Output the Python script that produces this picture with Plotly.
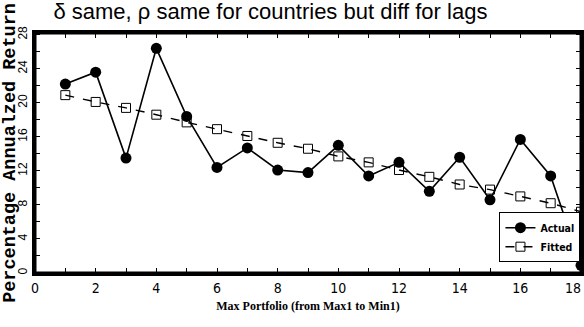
import plotly.graph_objects as go

portfolios = list(range(1, 19))
actual = [22.2, 23.6, 13.5, 26.4, 18.4, 12.4, 14.7, 12.1, 11.8, 15.0, 11.4, 13.0, 9.6, 13.6, 8.6, 15.7, 11.4, 0.9]
fitted = [20.9, 20.1, 19.4, 18.6, 17.7, 16.9, 16.1, 15.3, 14.6, 13.7, 13.0, 12.1, 11.3, 10.4, 9.8, 9.0, 8.2, 7.2]

title_text = "δ same, ρ same for countries but diff for lags"
x_title = "Max Portfolio (from Max1 to Min1)"
y_title = "Percentage Annualzed Return"
x_last_label = "18"

fig = go.Figure()
fig.add_trace(go.Scatter(
    x=portfolios, y=actual, name="Actual", mode="lines+markers",
    line=dict(color="black", width=1.6),
    marker=dict(symbol="circle", size=11, color="black"),
))
fig.add_trace(go.Scatter(
    x=portfolios, y=fitted, name="Fitted", mode="lines+markers",
    line=dict(color="black", width=1.4, dash="dash"),
    marker=dict(symbol="square-open", size=9, color="black", line=dict(width=1)),
))

narrow = "Liberation Sans Narrow, DejaVu Sans Condensed, Arial Narrow, sans-serif"

fig.update_layout(
    width=584, height=327,
    margin=dict(l=35, r=2.5, t=33, b=54, autoexpand=False),
    paper_bgcolor="white", plot_bgcolor="white",
    title=dict(text=title_text, x=0.463, xanchor="center", y=0.966, yanchor="middle",
               font=dict(family="Liberation Sans, Arial, sans-serif", size=22, color="black")),
    showlegend=True,
    legend=dict(x=0.999, xanchor="right", y=0.045, yanchor="bottom",
                bgcolor="white", bordercolor="black", borderwidth=1,
                font=dict(family=narrow, size=10.5, color="black", weight="bold"),
                itemwidth=30, tracegroupgap=0),
    shapes=[dict(type="rect", xref="paper", yref="paper", x0=0, y0=0, x1=1, y1=1,
                 line=dict(color="black", width=3), layer="above")],
    annotations=[dict(text=x_last_label, x=1, xref="paper", y=0, yref="paper",
                      yanchor="top", xanchor="right", xshift=2, yshift=-5, showarrow=False,
                      font=dict(family=narrow, size=14, color="black"))],
)

fig.update_xaxes(
    range=[0, 18], dtick=2, tick0=0, automargin=False,
    showgrid=False, zeroline=False,
    showline=True, linecolor="black", linewidth=3, mirror="allticks",
    ticks="inside", ticklen=5, tickwidth=1, tickcolor="black",
    minor=dict(dtick=1, ticks="inside", ticklen=5, tickwidth=1, tickcolor="black", showgrid=False),
    tickfont=dict(family=narrow, size=14, color="black"),
    title=dict(text=x_title, standoff=7,
               font=dict(family="Liberation Serif, DejaVu Serif, serif", size=12, color="black", weight="bold")),
)
fig.update_yaxes(
    range=[0, 28.2], dtick=4, tick0=0, automargin=False,
    showgrid=False, zeroline=False,
    showline=True, linecolor="black", linewidth=3, mirror="allticks",
    ticks="inside", ticklen=5, tickwidth=1, tickcolor="black",
    minor=dict(dtick=2, ticks="inside", ticklen=5, tickwidth=1, tickcolor="black", showgrid=False),
    tickangle=-90,
    tickfont=dict(family="Liberation Sans, Arial, sans-serif", size=12, color="black"),
    title=dict(text=y_title, standoff=11,
               font=dict(family="Liberation Mono, Courier New, monospace", size=18.5, color="black", weight="bold")),
)

fig.write_html("out.html", config={"displayModeBar": False},
               post_script="document.body.style.margin='0';")
